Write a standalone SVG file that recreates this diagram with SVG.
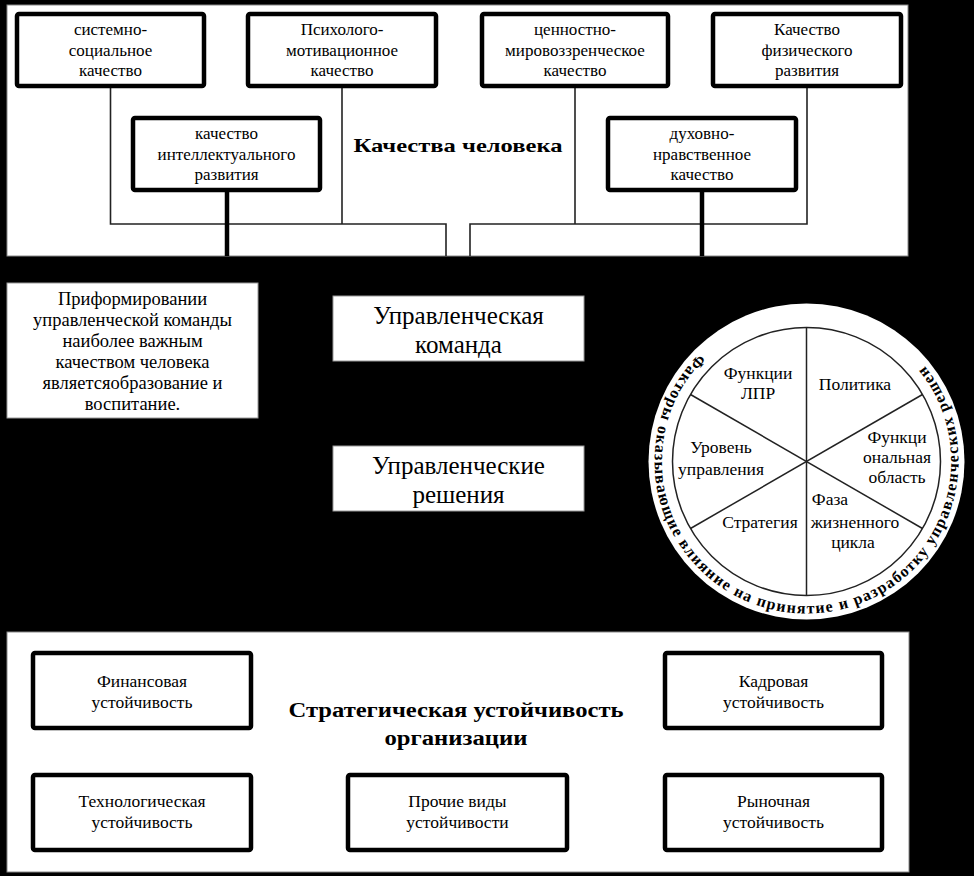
<svg xmlns="http://www.w3.org/2000/svg" width="974" height="876" viewBox="0 0 974 876">
<defs>
<style>
text{font-family:"Liberation Serif","Times New Roman",serif;fill:#000;text-anchor:middle}
.box{fill:#fff;stroke:#000;stroke-width:4.5}
.panel{fill:#fff;stroke:#888;stroke-width:1}
.plain{fill:#fff;stroke:#999;stroke-width:1}
.t16{font-size:17px}
.tc{font-size:17.5px}
.t17{font-size:17.5px}
.t18{font-size:18.5px}
.t23{font-size:25px}
.title{font-size:20px;font-weight:bold}
.ln{stroke:#222;stroke-width:1.6;fill:none}
.thick{stroke:#000;stroke-width:4.5;fill:none}
.spoke{stroke:#222;stroke-width:1.5;fill:none}
.ring{font-size:16px;font-weight:bold;text-anchor:start}
</style>
<path id="ringPath" d="M 699 354 A 152 152 0 1 0 919.5 359.8"/>
</defs>
<rect x="0" y="0" width="974" height="876" fill="#000"/>

<!-- top panel -->
<rect class="panel" x="7" y="5" width="901" height="251"/>
<text class="title" x="458" y="152" textLength="209" lengthAdjust="spacingAndGlyphs" style="font-size:19px">Качества человека</text>

<g id="connectors">
<polyline class="ln" points="110.5,86 110.5,224 446,224 446,256"/>
<line class="ln" x1="342" y1="86" x2="342" y2="224"/>
<polyline class="ln" points="807,86 807,224 470,224 470,256"/>
<line class="ln" x1="575" y1="86" x2="575" y2="224"/>
<line class="thick" x1="227" y1="190" x2="227" y2="256"/>
<line class="thick" x1="702" y1="190" x2="702" y2="256"/>
<line class="ln" x1="251" y1="690" x2="665" y2="690"/>
<line class="ln" x1="142" y1="728" x2="142" y2="775"/>
<line class="ln" x1="775" y1="728" x2="775" y2="775"/>
<line class="ln" x1="251" y1="812" x2="348" y2="812"/>
<line class="ln" x1="567" y1="812" x2="665" y2="812"/>
</g>

<g id="n-sys">
<rect class="box" x="17" y="14" width="187" height="72" rx="2"/>
<text class="t16" x="110.5" y="35">системно-</text>
<text class="t16" x="110.5" y="56">социальное</text>
<text class="t16" x="110.5" y="76">качество</text>
</g>
<g id="n-psy">
<rect class="box" x="248" y="14" width="188" height="72" rx="2"/>
<text class="t16" x="342" y="35">Психолого-</text>
<text class="t16" x="342" y="56">мотивационное</text>
<text class="t16" x="342" y="76">качество</text>
</g>
<g id="n-val">
<rect class="box" x="482" y="14" width="186" height="72" rx="2"/>
<text class="t16" x="575" y="35">ценностно-</text>
<text class="t16" x="575" y="56">мировоззренческое</text>
<text class="t16" x="575" y="76">качество</text>
</g>
<g id="n-phys">
<rect class="box" x="713" y="14" width="188" height="72" rx="2"/>
<text class="t16" x="807" y="35">Качество</text>
<text class="t16" x="807" y="56">физического</text>
<text class="t16" x="807" y="76">развития</text>
</g>
<g id="n-int">
<rect class="box" x="133" y="118" width="187" height="72" rx="2"/>
<text class="t16" x="226.5" y="139">качество</text>
<text class="t16" x="226.5" y="160">интеллектуального</text>
<text class="t16" x="226.5" y="180">развития</text>
</g>
<g id="n-spir">
<rect class="box" x="608" y="118" width="188" height="72" rx="2"/>
<text class="t16" x="702" y="139">духовно-</text>
<text class="t16" x="702" y="160">нравственное</text>
<text class="t16" x="702" y="180">качество</text>
</g>

<!-- middle -->
<g id="n-note">
<rect class="plain" x="7" y="283" width="251" height="135"/>
<text class="t18" x="132.5" y="305">Приформировании</text>
<text class="t18" x="132.5" y="326">управленческой команды</text>
<text class="t18" x="132.5" y="347">наиболее важным</text>
<text class="t18" x="132.5" y="368">качеством человека</text>
<text class="t18" x="132.5" y="389">являетсяобразование и</text>
<text class="t18" x="132.5" y="410">воспитание.</text>
</g>
<g id="n-team">
<rect class="plain" x="333" y="296" width="251" height="65"/>
<text class="t23" x="458.5" y="324">Управленческая</text>
<text class="t23" x="458.5" y="353">команда</text>
</g>
<g id="n-dec">
<rect class="plain" x="333" y="446" width="251" height="65"/>
<text class="t23" x="458.5" y="474">Управленческие</text>
<text class="t23" x="458.5" y="503">решения</text>
</g>

<g id="n-circle">
<circle cx="806.5" cy="461.5" r="158" fill="#fff"/>
<circle cx="806.5" cy="461.5" r="134" fill="#fff" stroke="#222" stroke-width="1.5"/>
<line class="spoke" x1="806.5" y1="327.5" x2="806.5" y2="595.5"/>
<line class="spoke" x1="690.5" y1="394.5" x2="922.5" y2="528.5"/>
<line class="spoke" x1="690.5" y1="528.5" x2="922.5" y2="394.5"/>
<text class="tc" x="758" y="379">Функции</text>
<text class="tc" x="758" y="399">ЛПР</text>
<text class="tc" x="855" y="390">Политика</text>
<text class="tc" x="721" y="453">Уровень</text>
<text class="tc" x="721" y="475">управления</text>
<text class="tc" x="897" y="443">Функци</text>
<text class="tc" x="897" y="463">ональная</text>
<text class="tc" x="897" y="483">область</text>
<text class="tc" x="830" y="505">Фаза</text>
<text class="tc" x="855" y="528">жизненного</text>
<text class="tc" x="853" y="548">цикла</text>
<text class="tc" x="760" y="528">Стратегия</text>
<text class="ring"><textPath href="#ringPath" textLength="700" lengthAdjust="spacing">Факторы оказывающие влияние на принятие и разработку управленческих решен</textPath></text>
</g>

<!-- bottom panel -->
<rect class="panel" x="7" y="632" width="902" height="240"/>
<text class="title" x="456" y="717" textLength="335" lengthAdjust="spacingAndGlyphs">Стратегическая устойчивость</text>
<text class="title" x="456" y="745" textLength="143" lengthAdjust="spacingAndGlyphs">организации</text>

<g id="n-fin">
<rect class="box" x="33" y="653" width="218" height="75" rx="2"/>
<text class="t17" x="142" y="687">Финансовая</text>
<text class="t17" x="142" y="708">устойчивость</text>
</g>
<g id="n-hr">
<rect class="box" x="665" y="653" width="217" height="75" rx="2"/>
<text class="t17" x="773.5" y="687">Кадровая</text>
<text class="t17" x="773.5" y="708">устойчивость</text>
</g>
<g id="n-tech">
<rect class="box" x="33" y="775" width="218" height="75" rx="2"/>
<text class="t17" x="142" y="807">Технологическая</text>
<text class="t17" x="142" y="828">устойчивость</text>
</g>
<g id="n-other">
<rect class="box" x="348" y="775" width="219" height="75" rx="2"/>
<text class="t17" x="457.5" y="807">Прочие виды</text>
<text class="t17" x="457.5" y="828">устойчивости</text>
</g>
<g id="n-mkt">
<rect class="box" x="665" y="775" width="217" height="75" rx="2"/>
<text class="t17" x="773.5" y="807">Рыночная</text>
<text class="t17" x="773.5" y="828">устойчивость</text>
</g>
</svg>
